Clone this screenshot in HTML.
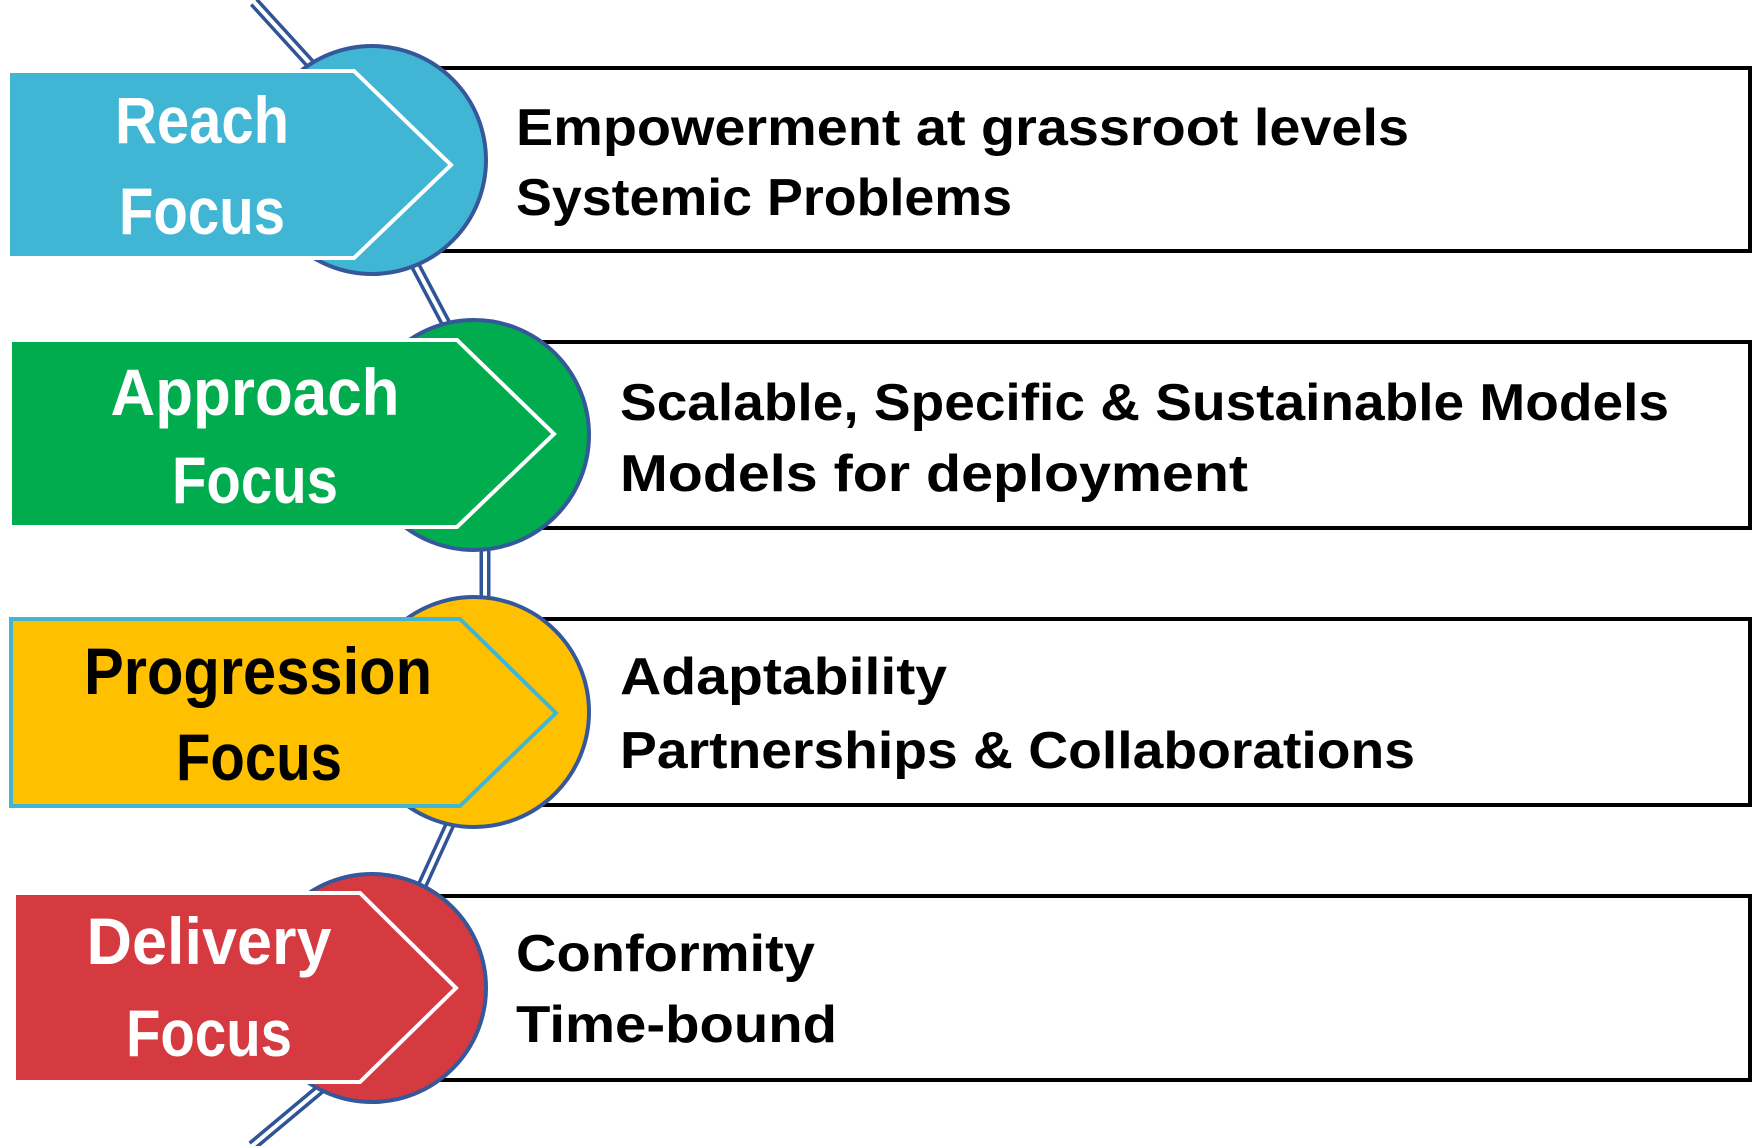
<!DOCTYPE html>
<html><head><meta charset="utf-8"><style>
html,body{margin:0;padding:0;background:#fff;}
svg{display:block;}
text{font-family:"Liberation Sans",sans-serif;font-weight:bold;}
</style></head><body>
<svg width="1760" height="1146" viewBox="0 0 1760 1146" xmlns="http://www.w3.org/2000/svg">
<g fill="none">
<path d="M254,2 L325,80 M415,265 L452,335 M485,545 L485,600 M452,820 L420,890 M325,1085 L252,1146" stroke="#2f5597" stroke-width="11"/>
<path d="M254,2 L325,80 M415,265 L452,335 M485,545 L485,600 M452,820 L420,890 M325,1085 L252,1146" stroke="#fff" stroke-width="4"/>
</g>
<g fill="#fff" stroke="#000" stroke-width="4">
<rect x="440" y="68" width="1310" height="183"/>
<rect x="540" y="342" width="1210" height="186"/>
<rect x="540" y="619" width="1210" height="186"/>
<rect x="440" y="896" width="1310" height="184"/>
</g>
<g stroke="#34589a" stroke-width="4">
<circle cx="372" cy="160" r="114" fill="#41b6d4"/>
<circle cx="474" cy="435" r="115" fill="#00ac4e"/>
<circle cx="474" cy="712" r="115" fill="#ffc000"/>
<circle cx="372" cy="988" r="114" fill="#d53a40"/>
</g>
<polygon points="8,71 354,71 451,165 354,258 8,258" fill="#41b6d4" stroke="#fff" stroke-width="4"/>
<polygon points="10,340 457,340 554,434 457,527 10,527" fill="#00ac4e" stroke="#fff" stroke-width="4"/>
<polygon points="11,619 460,619 556,713 460,806 11,806" fill="#ffc000" stroke="#41b6d4" stroke-width="4"/>
<polygon points="14,893 360,893 456,988 360,1082 14,1082" fill="#d53a40" stroke="#fff" stroke-width="4"/>
<g font-size="66" text-anchor="middle">
<text x="202" y="143" fill="#fff" textLength="174" lengthAdjust="spacingAndGlyphs">Reach</text>
<text x="202" y="234" fill="#fff" textLength="166" lengthAdjust="spacingAndGlyphs">Focus</text>
<text x="255" y="415" fill="#fff" textLength="289" lengthAdjust="spacingAndGlyphs">Approach</text>
<text x="255" y="503" fill="#fff" textLength="166" lengthAdjust="spacingAndGlyphs">Focus</text>
<text x="258" y="694" fill="#000" textLength="348" lengthAdjust="spacingAndGlyphs">Progression</text>
<text x="259" y="780" fill="#000" textLength="166" lengthAdjust="spacingAndGlyphs">Focus</text>
<text x="209" y="964" fill="#fff" textLength="245" lengthAdjust="spacingAndGlyphs">Delivery</text>
<text x="209" y="1056" fill="#fff" textLength="166" lengthAdjust="spacingAndGlyphs">Focus</text>
</g>
<g font-size="52" fill="#000">
<text x="516" y="145" textLength="893" lengthAdjust="spacingAndGlyphs">Empowerment at grassroot levels</text>
<text x="516" y="215" textLength="496" lengthAdjust="spacingAndGlyphs">Systemic Problems</text>
<text x="620" y="420" textLength="1049" lengthAdjust="spacingAndGlyphs">Scalable, Specific &amp; Sustainable Models</text>
<text x="620" y="491" textLength="628" lengthAdjust="spacingAndGlyphs">Models for deployment</text>
<text x="620" y="694" textLength="327" lengthAdjust="spacingAndGlyphs">Adaptability</text>
<text x="620" y="768" textLength="795" lengthAdjust="spacingAndGlyphs">Partnerships &amp; Collaborations</text>
<text x="516" y="971" textLength="299" lengthAdjust="spacingAndGlyphs">Conformity</text>
<text x="516" y="1042" textLength="321" lengthAdjust="spacingAndGlyphs">Time-bound</text>
</g>
</svg>
</body></html>
